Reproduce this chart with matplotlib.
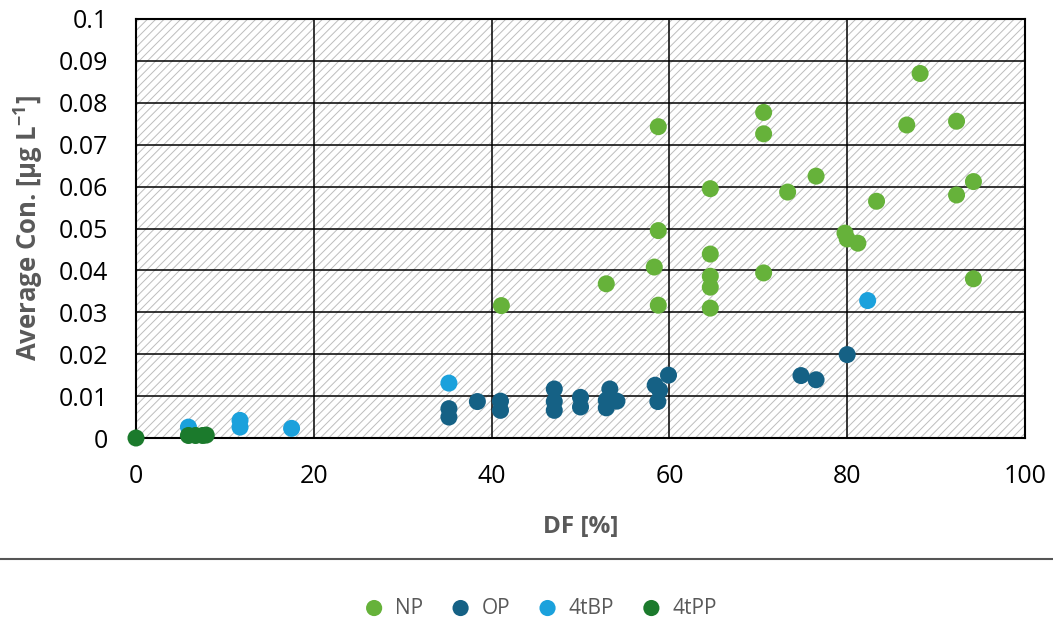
import matplotlib
matplotlib.use("Agg")
import matplotlib.pyplot as plt
from matplotlib.patches import Rectangle
from matplotlib.lines import Line2D

plt.rcParams['font.family'] = ['Open Sans', 'DejaVu Sans']
plt.rcParams['mathtext.default'] = 'regular'
plt.rcParams['hatch.color'] = '#bdbdbd'
plt.rcParams['hatch.linewidth'] = 0.7

# ---- data ----
np_x = [41.1, 52.9, 58.3, 58.75, 58.75, 58.75, 64.6, 64.6, 64.6, 64.6, 64.6,
        70.6, 70.6, 70.6, 73.3, 76.5, 79.75, 80.0, 81.2, 83.3, 86.7, 88.2,
        92.3, 92.3, 94.2, 94.2]
np_y = [0.0316, 0.0368, 0.0408, 0.0743, 0.0495, 0.0317, 0.0595, 0.0439, 0.0386, 0.0360, 0.0310,
        0.0777, 0.0726, 0.0394, 0.0587, 0.0625, 0.0489, 0.0475, 0.0465, 0.0565, 0.0747, 0.0870,
        0.0756, 0.0580, 0.0612, 0.0380]

op_x = [35.2, 35.2, 38.4, 41.0, 41.0, 47.05, 47.05, 47.05, 50.0, 50.0,
        53.3, 52.9, 52.9, 54.1, 58.4, 58.9, 58.7, 59.9, 74.8, 76.5, 80.0]
op_y = [0.0070, 0.0050, 0.0087, 0.0088, 0.0066, 0.0117, 0.0087, 0.0066, 0.0097, 0.0074,
        0.0117, 0.0090, 0.0072, 0.0088, 0.0126, 0.0114, 0.0087, 0.0150, 0.0149, 0.0139, 0.0199]

tbp_x = [5.9, 11.7, 11.7, 17.5, 35.2, 82.3]
tbp_y = [0.0026, 0.0042, 0.0026, 0.0023, 0.0131, 0.0328]

tpp_x = [0.0, 5.9, 6.7, 7.5, 7.9]
tpp_y = [0.0, 0.0006, 0.0006, 0.0006, 0.0007]

series_names = ['NP', 'OP', '4tBP', '4tPP']
series_colors = ['#66b23a', '#156185', '#1ba1dc', '#1b7a2c']

x_ticks = [0, 20, 40, 60, 80, 100]
y_ticks = [0, 0.01, 0.02, 0.03, 0.04, 0.05, 0.06, 0.07, 0.08, 0.09, 0.1]
y_tick_labels = ['0', '0.01', '0.02', '0.03', '0.04', '0.05', '0.06', '0.07', '0.08', '0.09', '0.1']

# ---- figure ----
fig = plt.figure(figsize=(10.53, 6.28), dpi=100)
ax = fig.add_axes([136/1053, 1 - 438/628, (1025-136)/1053, (438-19)/628])

ax.add_patch(Rectangle((0, 0), 1, 1, transform=ax.transAxes, facecolor='white',
                       edgecolor='#bdbdbd', linewidth=0, hatch='////', zorder=0))

ax.set_xlim(0, 100)
ax.set_ylim(0, 0.1)
ax.set_xticks(x_ticks)
ax.set_yticks(y_ticks)
ax.set_yticklabels(y_tick_labels)
ax.grid(True, color='black', linewidth=1.1, zorder=1)
ax.set_axisbelow(True)
for s in ax.spines.values():
    s.set_color('black')
    s.set_linewidth(1.5)
    s.set_zorder(2)

ax.tick_params(axis='both', length=0, labelsize=18, colors='black')
ax.tick_params(axis='x', pad=19)
ax.tick_params(axis='y', pad=20)

data = [(np_x, np_y), (op_x, op_y), (tbp_x, tbp_y), (tpp_x, tpp_y)]
for (xs, ys), name, col in zip(data, series_names, series_colors):
    ax.scatter(xs, ys, s=150, color=col, edgecolors='none', label=name, zorder=3, clip_on=False)

ax.set_xlabel('DF [%]', fontsize=17.5, fontweight='bold', color='#595959')
ax.xaxis.label.set_va('center')
ax.xaxis.set_label_coords(0.5, (438 - 527) / 419)
ax.set_ylabel('Average Con. [µg L$^{-1}$]', fontsize=18.5, fontweight='bold', color='#595959')
ax.yaxis.label.set_va('center')
ax.yaxis.set_label_coords((28 - 136) / 889, 0.5)

fig.add_artist(Line2D([0, 1], [1 - 559/628, 1 - 559/628], transform=fig.transFigure,
                      color='#555555', linewidth=1.5))

leg = fig.legend(loc='center', bbox_to_anchor=(535/1053, 1 - 608/628), ncol=4, frameon=False,
                 fontsize=15, handletextpad=0.0, columnspacing=0.8, markerscale=0.95,
                 borderaxespad=0)
for t in leg.get_texts():
    t.set_color('#595959')

fig.savefig('out.png', dpi=100)
